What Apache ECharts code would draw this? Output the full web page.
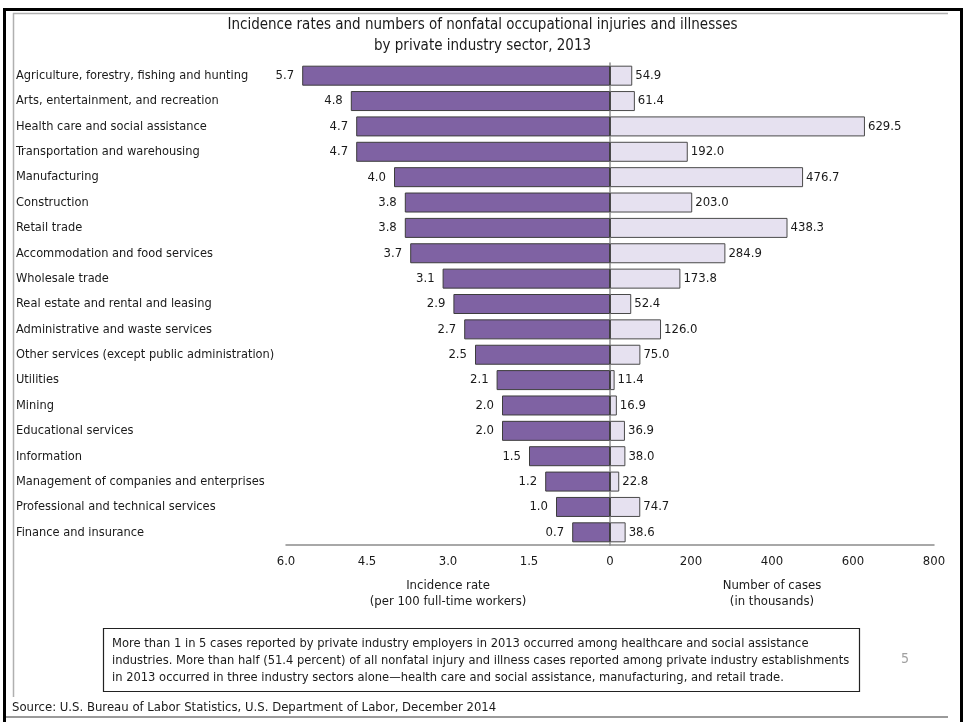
<!DOCTYPE html>
<html>
<head>
<meta charset="utf-8">
<script src="https://cdn.jsdelivr.net/npm/echarts@6/dist/echarts.min.js"></script>
<style>
  html, body { margin: 0; padding: 0; background: #fff; }
  #chart { width: 965px; height: 722px; }
</style>
</head>
<body>
<div id="chart"></div>
<script>
// Private industry sectors, 2013 (top to bottom)
var industries = [
  "Agriculture, forestry, fishing and hunting",
  "Arts, entertainment, and recreation",
  "Health care and social assistance",
  "Transportation and warehousing",
  "Manufacturing",
  "Construction",
  "Retail trade",
  "Accommodation and food services",
  "Wholesale trade",
  "Real estate and rental and leasing",
  "Administrative and waste services",
  "Other services (except public administration)",
  "Utilities",
  "Mining",
  "Educational services",
  "Information",
  "Management of companies and enterprises",
  "Professional and technical services",
  "Finance and insurance"
];

// Incidence rate per 100 full-time workers
var incidenceRates = [5.7, 4.8, 4.7, 4.7, 4.0, 3.8, 3.8, 3.7, 3.1, 2.9, 2.7, 2.5, 2.1, 2.0, 2.0, 1.5, 1.2, 1.0, 0.7];

// Number of cases, in thousands
var caseCounts = [54.9, 61.4, 629.5, 192.0, 476.7, 203.0, 438.3, 284.9, 173.8, 52.4, 126.0, 75.0, 11.4, 16.9, 36.9, 38.0, 22.8, 74.7, 38.6];

// Axis scales
var rateAxis = { min: 0, max: 6, interval: 1.5 };
var caseAxis = { min: 0, max: 800, interval: 200 };

var titleLines = "Incidence rates and numbers of nonfatal occupational injuries and illnesses\nby private industry sector, 2013";
var rateAxisName = "Incidence rate\n(per 100 full-time workers)";
var caseAxisName = "Number of cases\n(in thousands)";
var noteText = "More than 1 in 5 cases reported by private industry employers in 2013 occurred among healthcare and social assistance\nindustries. More than half (51.4 percent) of all nonfatal injury and illness cases reported among private industry establishments\nin 2013 occurred in three industry sectors alone\u2014health care and social assistance, manufacturing, and retail trade.";
var sourceText = "Source: U.S. Bureau of Labor Statistics, U.S. Department of Labor, December 2014";
var pageNumber = "5";

var FONT = "'DejaVu Sans Condensed', 'Liberation Sans', sans-serif";
var TXT = "#1a1a1a";
var AXIS_GRAY = "#8c8c8c";

var chart = echarts.init(document.getElementById('chart'), null, { renderer: 'canvas' });

var gridTop = 63, gridHeight = 482;

var option = {
  animation: false,
  backgroundColor: '#ffffff',
  textStyle: { fontFamily: FONT },
  title: {
    text: titleLines,
    left: 'center',
    top: 10,
    textStyle: { fontFamily: FONT, fontSize: 15, fontWeight: 'normal', color: TXT, lineHeight: 21 }
  },
  grid: [
    { left: 286, top: gridTop, width: 324, height: gridHeight },
    { left: 610, top: gridTop, width: 324, height: gridHeight }
  ],
  xAxis: [
    {
      gridIndex: 0, type: 'value', inverse: true,
      min: rateAxis.min, max: rateAxis.max, interval: rateAxis.interval,
      axisLine: { show: true, lineStyle: { color: AXIS_GRAY, width: 1.5 } },
      axisTick: { show: false },
      splitLine: { show: false },
      axisLabel: {
        margin: 10, fontFamily: FONT, fontSize: 13, color: TXT,
        formatter: function (v) { return v === 0 ? '' : v.toFixed(1); }
      },
      name: rateAxisName, nameLocation: 'middle', nameGap: 33,
      nameTextStyle: { fontFamily: FONT, fontSize: 13, color: TXT, lineHeight: 16 }
    },
    {
      gridIndex: 1, type: 'value',
      min: caseAxis.min, max: caseAxis.max, interval: caseAxis.interval,
      axisLine: { show: true, lineStyle: { color: AXIS_GRAY, width: 1.5 } },
      axisTick: { show: false },
      splitLine: { show: false },
      axisLabel: { margin: 10, fontFamily: FONT, fontSize: 13, color: TXT },
      name: caseAxisName, nameLocation: 'middle', nameGap: 33,
      nameTextStyle: { fontFamily: FONT, fontSize: 13, color: TXT, lineHeight: 16 }
    }
  ],
  yAxis: [
    {
      gridIndex: 0, type: 'category', data: industries, inverse: true,
      position: 'left',
      axisLine: { show: false }, axisTick: { show: false },
      axisLabel: { align: 'left', margin: 270, fontFamily: FONT, fontSize: 12.7, color: TXT }
    },
    {
      gridIndex: 1, type: 'category', data: industries, inverse: true,
      position: 'left',
      axisLine: { show: true, lineStyle: { color: AXIS_GRAY, width: 1.5 } },
      axisTick: { show: false },
      axisLabel: { show: false }
    }
  ],
  series: [
    {
      type: 'bar', xAxisIndex: 0, yAxisIndex: 0,
      data: incidenceRates, barWidth: 20,
      itemStyle: { color: '#7f62a3', borderColor: '#3d3d3d', borderWidth: 1 },
      label: {
        show: true, position: 'left', distance: 8,
        fontFamily: FONT, fontSize: 13, color: TXT,
        formatter: function (p) { return p.value.toFixed(1); }
      }
    },
    {
      type: 'bar', xAxisIndex: 1, yAxisIndex: 1,
      data: caseCounts, barWidth: 20,
      itemStyle: { color: '#e6e1f0', borderColor: '#4a4a4a', borderWidth: 1 },
      label: {
        show: true, position: 'right', distance: 3,
        fontFamily: FONT, fontSize: 13, color: TXT,
        formatter: function (p) { return p.value.toFixed(1); }
      }
    }
  ],
  graphic: [
    // slide frame
    { type: 'rect', shape: { x: 3, y: 8, width: 3, height: 714 }, style: { fill: '#000' }, silent: true },
    { type: 'rect', shape: { x: 3, y: 8, width: 960, height: 3 }, style: { fill: '#000' }, silent: true },
    { type: 'rect', shape: { x: 960, y: 8, width: 3, height: 714 }, style: { fill: '#000' }, silent: true },
    { type: 'line', shape: { x1: 13, y1: 13.5, x2: 948, y2: 13.5 }, style: { stroke: '#b0b0b0', lineWidth: 1.5 }, silent: true },
    { type: 'line', shape: { x1: 13.5, y1: 13, x2: 13.5, y2: 697 }, style: { stroke: '#b0b0b0', lineWidth: 1.5 }, silent: true },
    { type: 'line', shape: { x1: 6, y1: 717, x2: 948, y2: 717 }, style: { stroke: '#9a9a9a', lineWidth: 2 }, silent: true },
    // note box
    { type: 'rect', shape: { x: 103.5, y: 628.5, width: 756, height: 63 }, style: { fill: '#fff', stroke: '#222', lineWidth: 1.2 }, silent: true },
    { type: 'text', left: 112, top: 635, style: { text: noteText, font: '12.8px ' + FONT, fill: TXT, lineHeight: 17 }, silent: true },
    // page number
    { type: 'text', left: 901, top: 652, style: { text: pageNumber, font: '14px ' + FONT, fill: '#a0a0a0' }, silent: true },
    // source line
    { type: 'text', left: 12, top: 701, style: { text: sourceText, font: '13px ' + FONT, fill: TXT }, silent: true }
  ]
};

chart.setOption(option);
</script>
</body>
</html>
